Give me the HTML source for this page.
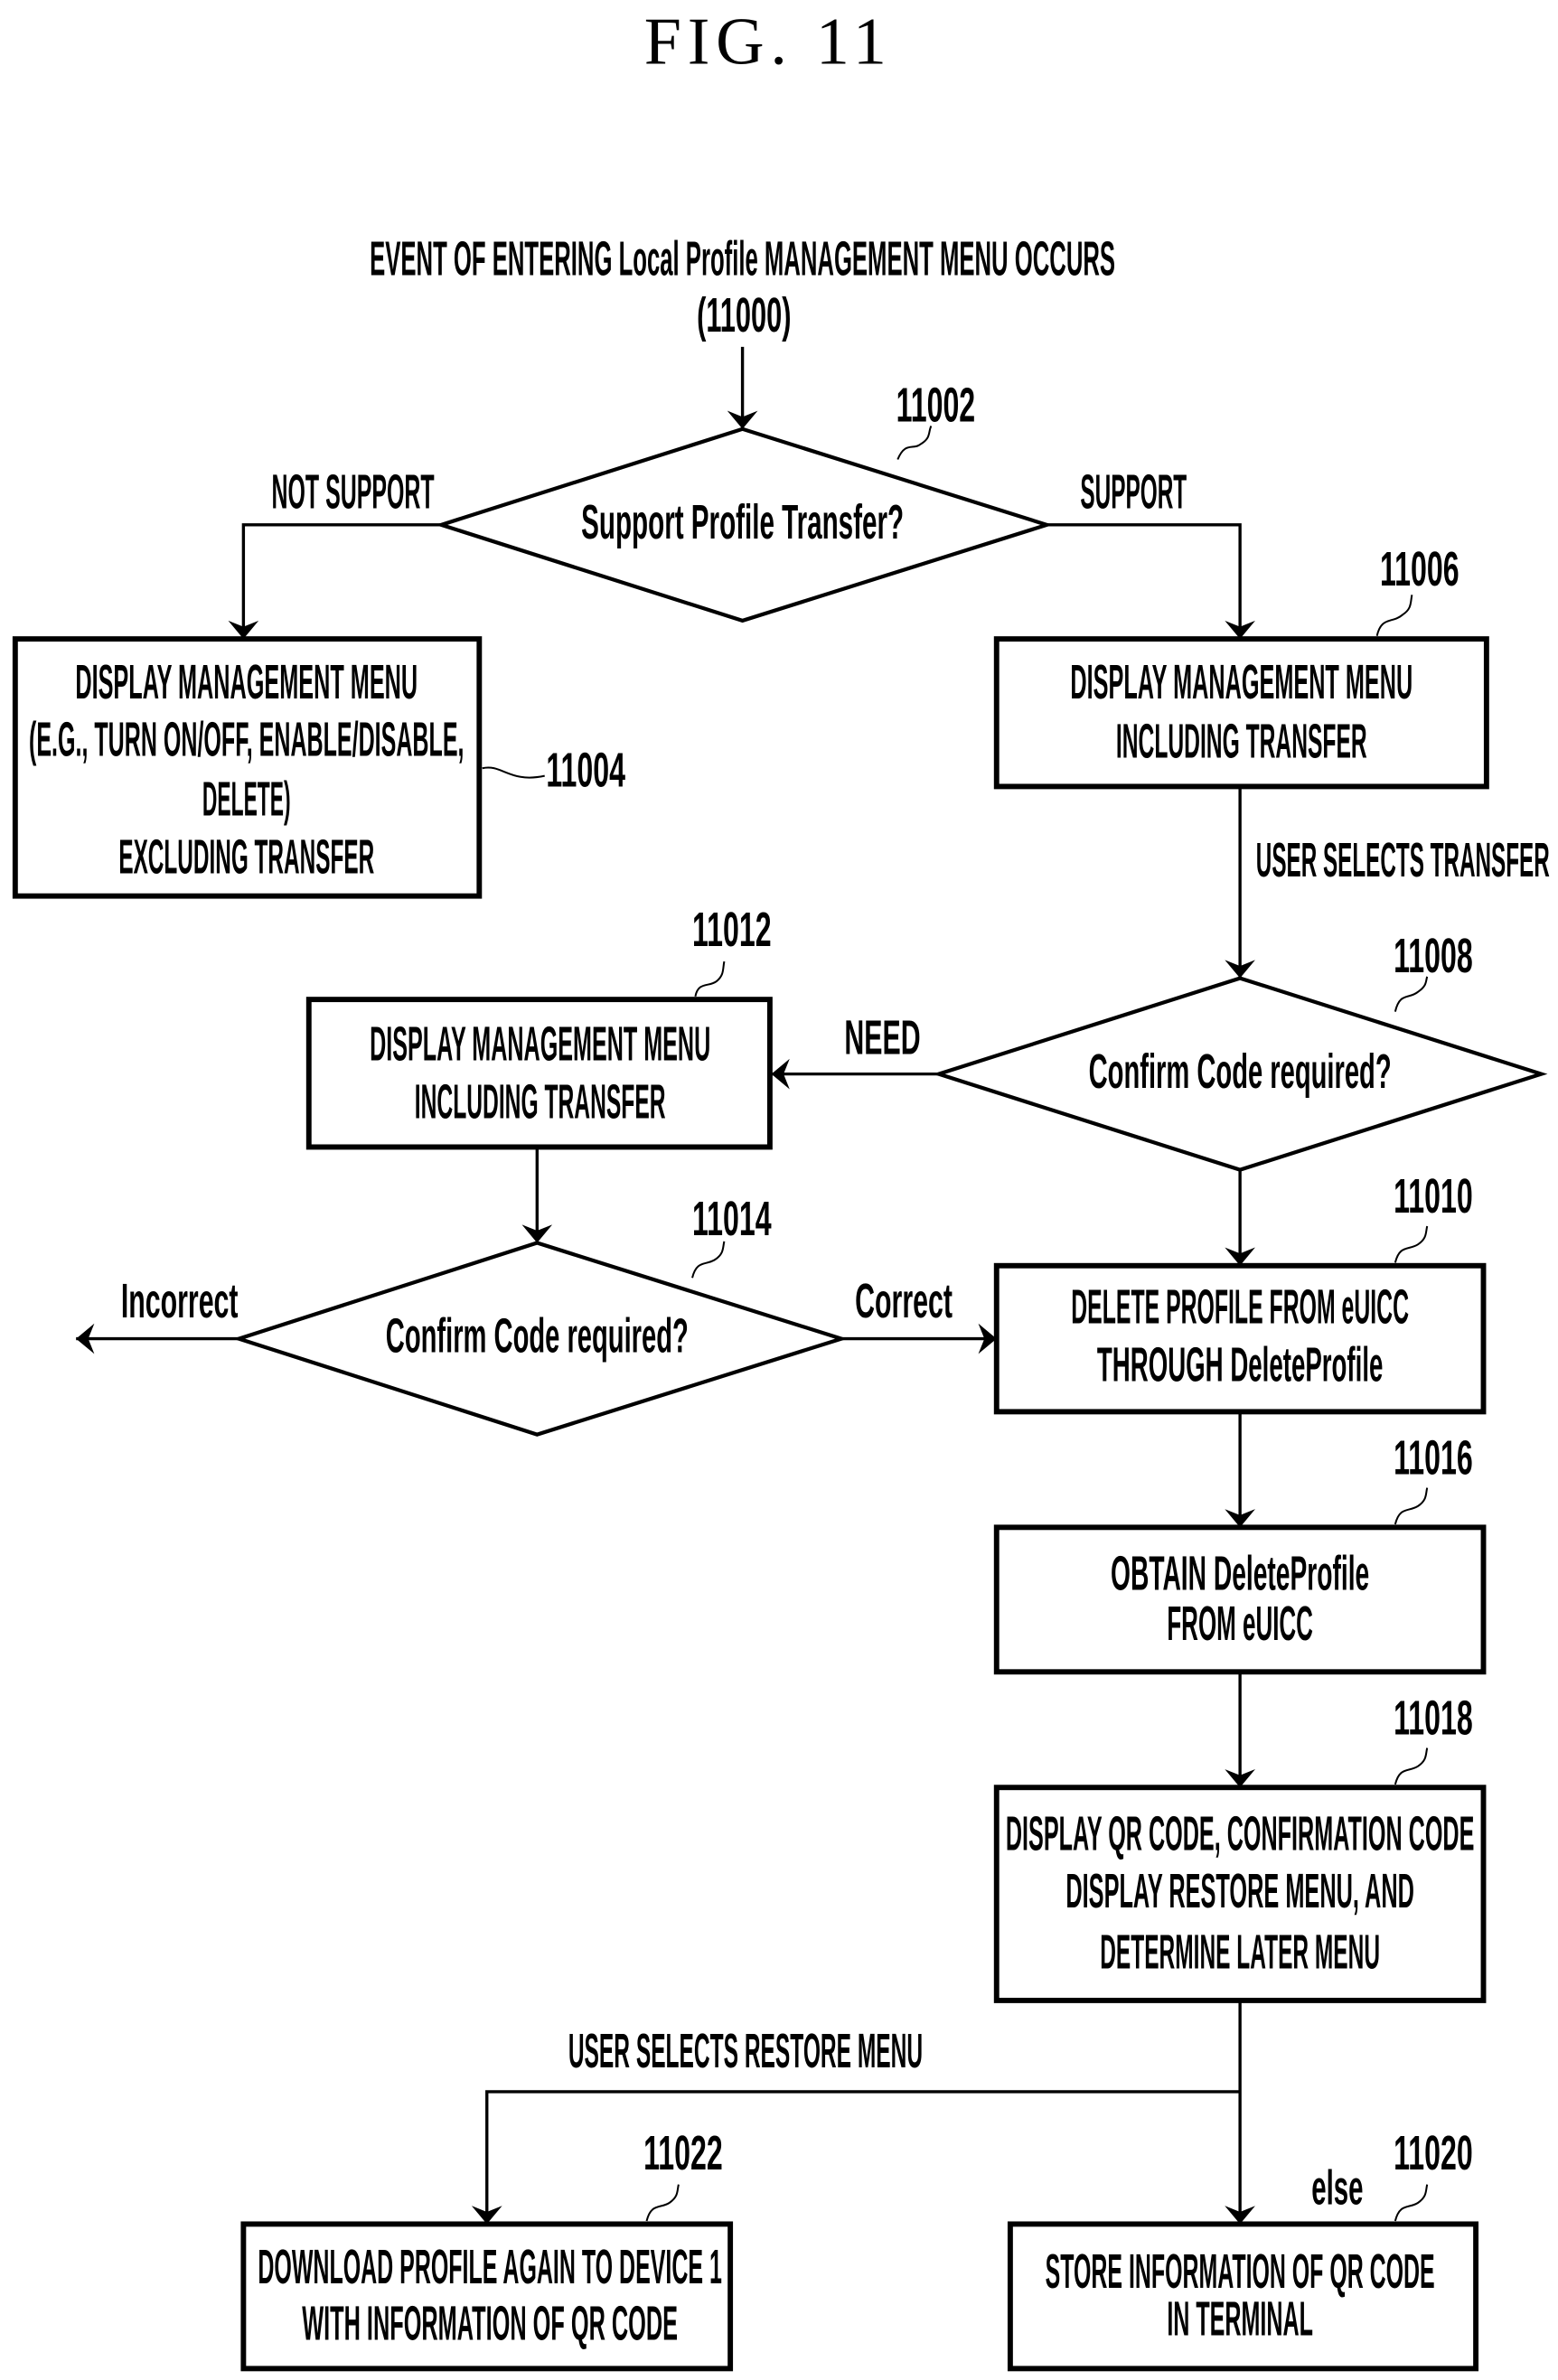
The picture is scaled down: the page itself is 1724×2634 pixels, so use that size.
<!DOCTYPE html>
<html><head><meta charset="utf-8"><style>
html,body{margin:0;padding:0;background:#fff}
svg{display:block}
text{font-family:"Liberation Sans Narrow","Liberation Sans",sans-serif;font-size:32px;font-weight:bold;fill:#000;text-anchor:middle}
.fig{font-family:"Liberation Serif",serif;font-size:44px;font-weight:normal;letter-spacing:4px}
</style></head><body>
<svg width="1724" height="2634" viewBox="0 0 1024 1564.5" xmlns="http://www.w3.org/2000/svg">
<defs>
<marker id="b" viewBox="0 0 12 20" markerWidth="12" markerHeight="20" refX="12" refY="10" orient="auto" markerUnits="userSpaceOnUse"><path d="M0,0 L12,10 L0,20 L4,10 Z" fill="#000"/></marker></defs>
<g stroke="#000" stroke-width="2" fill="none">
<path d="M488,228 V282" marker-end="url(#b)"/>
<polygon points="290,345 488,282 688,345 488,408" stroke-width="2.5"/>
<path d="M290,345 H160 V420" marker-end="url(#b)"/>
<path d="M688,345 H815 V420" marker-end="url(#b)"/>
<rect x="10" y="420" width="305" height="169" stroke-width="3.5"/>
<rect x="655" y="420" width="322" height="97" stroke-width="3.5"/>
<path d="M815,517 V643" marker-end="url(#b)"/>
<polygon points="617,706 815,643 1013,706 815,769" stroke-width="2.5"/>
<path d="M617,706 H507" marker-end="url(#b)"/>
<rect x="203" y="657" width="303" height="97" stroke-width="3.5"/>
<path d="M353,754 V817" marker-end="url(#b)"/>
<polygon points="157,880 353,817 553,880 353,943" stroke-width="2.5"/>
<path d="M157,880 H50" marker-end="url(#b)"/>
<path d="M553,880 H655" marker-end="url(#b)"/>
<path d="M815,769 V832" marker-end="url(#b)"/>
<rect x="655" y="832" width="320" height="96" stroke-width="3.5"/>
<path d="M815,928 V1004" marker-end="url(#b)"/>
<rect x="655" y="1004" width="320" height="95" stroke-width="3.5"/>
<path d="M815,1099 V1175" marker-end="url(#b)"/>
<rect x="655" y="1175" width="320" height="140" stroke-width="3.5"/>
<path d="M815,1315 V1462" marker-end="url(#b)"/>
<path d="M815,1375 H320 V1462" marker-end="url(#b)"/>
<rect x="160" y="1462" width="320" height="95" stroke-width="3.5"/>
<rect x="664" y="1462" width="306" height="95" stroke-width="3.5"/>
<g stroke-width="1.2">
<path d="M590,302 C595,290 600,296 605,292 C612,288 610,284 612,280"/>
<path d="M317,505 C330,502 335,515 358,510"/>
<path d="M905,418 C908,405 915,410 922,404 C928,400 927,396 928,391"/>
<path d="M917,665 C920,652 926,657 932,652 C938,648 937,645 938,642"/>
<path d="M457,655 C459,645 466,649 471,645 C476,641 475,637 476,632"/>
<path d="M455,840 C458,828 464,832 470,828 C476,824 475,820 476,816"/>
<path d="M917,830 C920,818 926,822 932,818 C938,814 937,810 938,806"/>
<path d="M917,1002 C920,990 926,994 932,990 C938,986 937,982 938,978"/>
<path d="M917,1173 C920,1161 926,1165 932,1161 C938,1157 937,1153 938,1149"/>
<path d="M425,1460 C428,1448 434,1452 440,1448 C446,1444 445,1440 446,1436"/>
<path d="M917,1460 C920,1448 926,1452 932,1448 C938,1444 937,1440 938,1436"/>
</g>
</g>
<text class="fig" x="505" y="42">FIG. 11</text>
<text x="488" y="181" textLength="490" lengthAdjust="spacingAndGlyphs">EVENT OF ENTERING Local Profile MANAGEMENT MENU OCCURS</text>
<text x="489" y="218" textLength="62" lengthAdjust="spacingAndGlyphs">(11000)</text>
<text x="488" y="354" textLength="212" lengthAdjust="spacingAndGlyphs">Support Profile Transfer?</text>
<text x="615" y="277" textLength="52" lengthAdjust="spacingAndGlyphs">11002</text>
<text x="232" y="334" textLength="107" lengthAdjust="spacingAndGlyphs">NOT SUPPORT</text>
<text x="745" y="334" textLength="70" lengthAdjust="spacingAndGlyphs">SUPPORT</text>
<text x="162" y="459" textLength="225" lengthAdjust="spacingAndGlyphs">DISPLAY MANAGEMENT MENU</text>
<text x="162" y="497" textLength="286" lengthAdjust="spacingAndGlyphs">(E.G., TURN ON/OFF, ENABLE/DISABLE,</text>
<text x="162" y="536" textLength="58" lengthAdjust="spacingAndGlyphs">DELETE)</text>
<text x="162" y="574" textLength="168" lengthAdjust="spacingAndGlyphs">EXCLUDING TRANSFER</text>
<text x="385" y="517" textLength="52" lengthAdjust="spacingAndGlyphs">11004</text>
<text x="816" y="459" textLength="225" lengthAdjust="spacingAndGlyphs">DISPLAY MANAGEMENT MENU</text>
<text x="816" y="498" textLength="165" lengthAdjust="spacingAndGlyphs">INCLUDING TRANSFER</text>
<text x="933" y="385" textLength="52" lengthAdjust="spacingAndGlyphs">11006</text>
<text x="922" y="576" textLength="193" lengthAdjust="spacingAndGlyphs">USER SELECTS TRANSFER</text>
<text x="815" y="715" textLength="199" lengthAdjust="spacingAndGlyphs">Confirm Code required?</text>
<text x="942" y="639" textLength="52" lengthAdjust="spacingAndGlyphs">11008</text>
<text x="580" y="693" textLength="50" lengthAdjust="spacingAndGlyphs">NEED</text>
<text x="355" y="697" textLength="224" lengthAdjust="spacingAndGlyphs">DISPLAY MANAGEMENT MENU</text>
<text x="355" y="735" textLength="165" lengthAdjust="spacingAndGlyphs">INCLUDING TRANSFER</text>
<text x="481" y="622" textLength="52" lengthAdjust="spacingAndGlyphs">11012</text>
<text x="353" y="889" textLength="199" lengthAdjust="spacingAndGlyphs">Confirm Code required?</text>
<text x="481" y="812" textLength="52" lengthAdjust="spacingAndGlyphs">11014</text>
<text x="118" y="866" textLength="77" lengthAdjust="spacingAndGlyphs">Incorrect</text>
<text x="594" y="866" textLength="64" lengthAdjust="spacingAndGlyphs">Correct</text>
<text x="815" y="870" textLength="222" lengthAdjust="spacingAndGlyphs">DELETE PROFILE FROM eUICC</text>
<text x="815" y="908" textLength="188" lengthAdjust="spacingAndGlyphs">THROUGH DeleteProfile</text>
<text x="942" y="797" textLength="52" lengthAdjust="spacingAndGlyphs">11010</text>
<text x="815" y="1045" textLength="170" lengthAdjust="spacingAndGlyphs">OBTAIN DeleteProfile</text>
<text x="815" y="1078" textLength="96" lengthAdjust="spacingAndGlyphs">FROM eUICC</text>
<text x="942" y="969" textLength="52" lengthAdjust="spacingAndGlyphs">11016</text>
<text x="815" y="1216" textLength="308" lengthAdjust="spacingAndGlyphs">DISPLAY QR CODE, CONFIRMATION CODE</text>
<text x="815" y="1254" textLength="229" lengthAdjust="spacingAndGlyphs">DISPLAY RESTORE MENU, AND</text>
<text x="815" y="1294" textLength="184" lengthAdjust="spacingAndGlyphs">DETERMINE LATER MENU</text>
<text x="942" y="1140" textLength="52" lengthAdjust="spacingAndGlyphs">11018</text>
<text x="490" y="1359" textLength="233" lengthAdjust="spacingAndGlyphs">USER SELECTS RESTORE MENU</text>
<text x="322" y="1501" textLength="305" lengthAdjust="spacingAndGlyphs">DOWNLOAD PROFILE AGAIN TO DEVICE 1</text>
<text x="322" y="1538" textLength="247" lengthAdjust="spacingAndGlyphs">WITH INFORMATION OF QR CODE</text>
<text x="449" y="1426" textLength="52" lengthAdjust="spacingAndGlyphs">11022</text>
<text x="815" y="1504" textLength="256" lengthAdjust="spacingAndGlyphs">STORE INFORMATION OF QR CODE</text>
<text x="815" y="1535" textLength="96" lengthAdjust="spacingAndGlyphs">IN TERMINAL</text>
<text x="942" y="1426" textLength="52" lengthAdjust="spacingAndGlyphs">11020</text>
<text x="879" y="1449" textLength="34" lengthAdjust="spacingAndGlyphs">else</text>
</svg>
</body></html>
